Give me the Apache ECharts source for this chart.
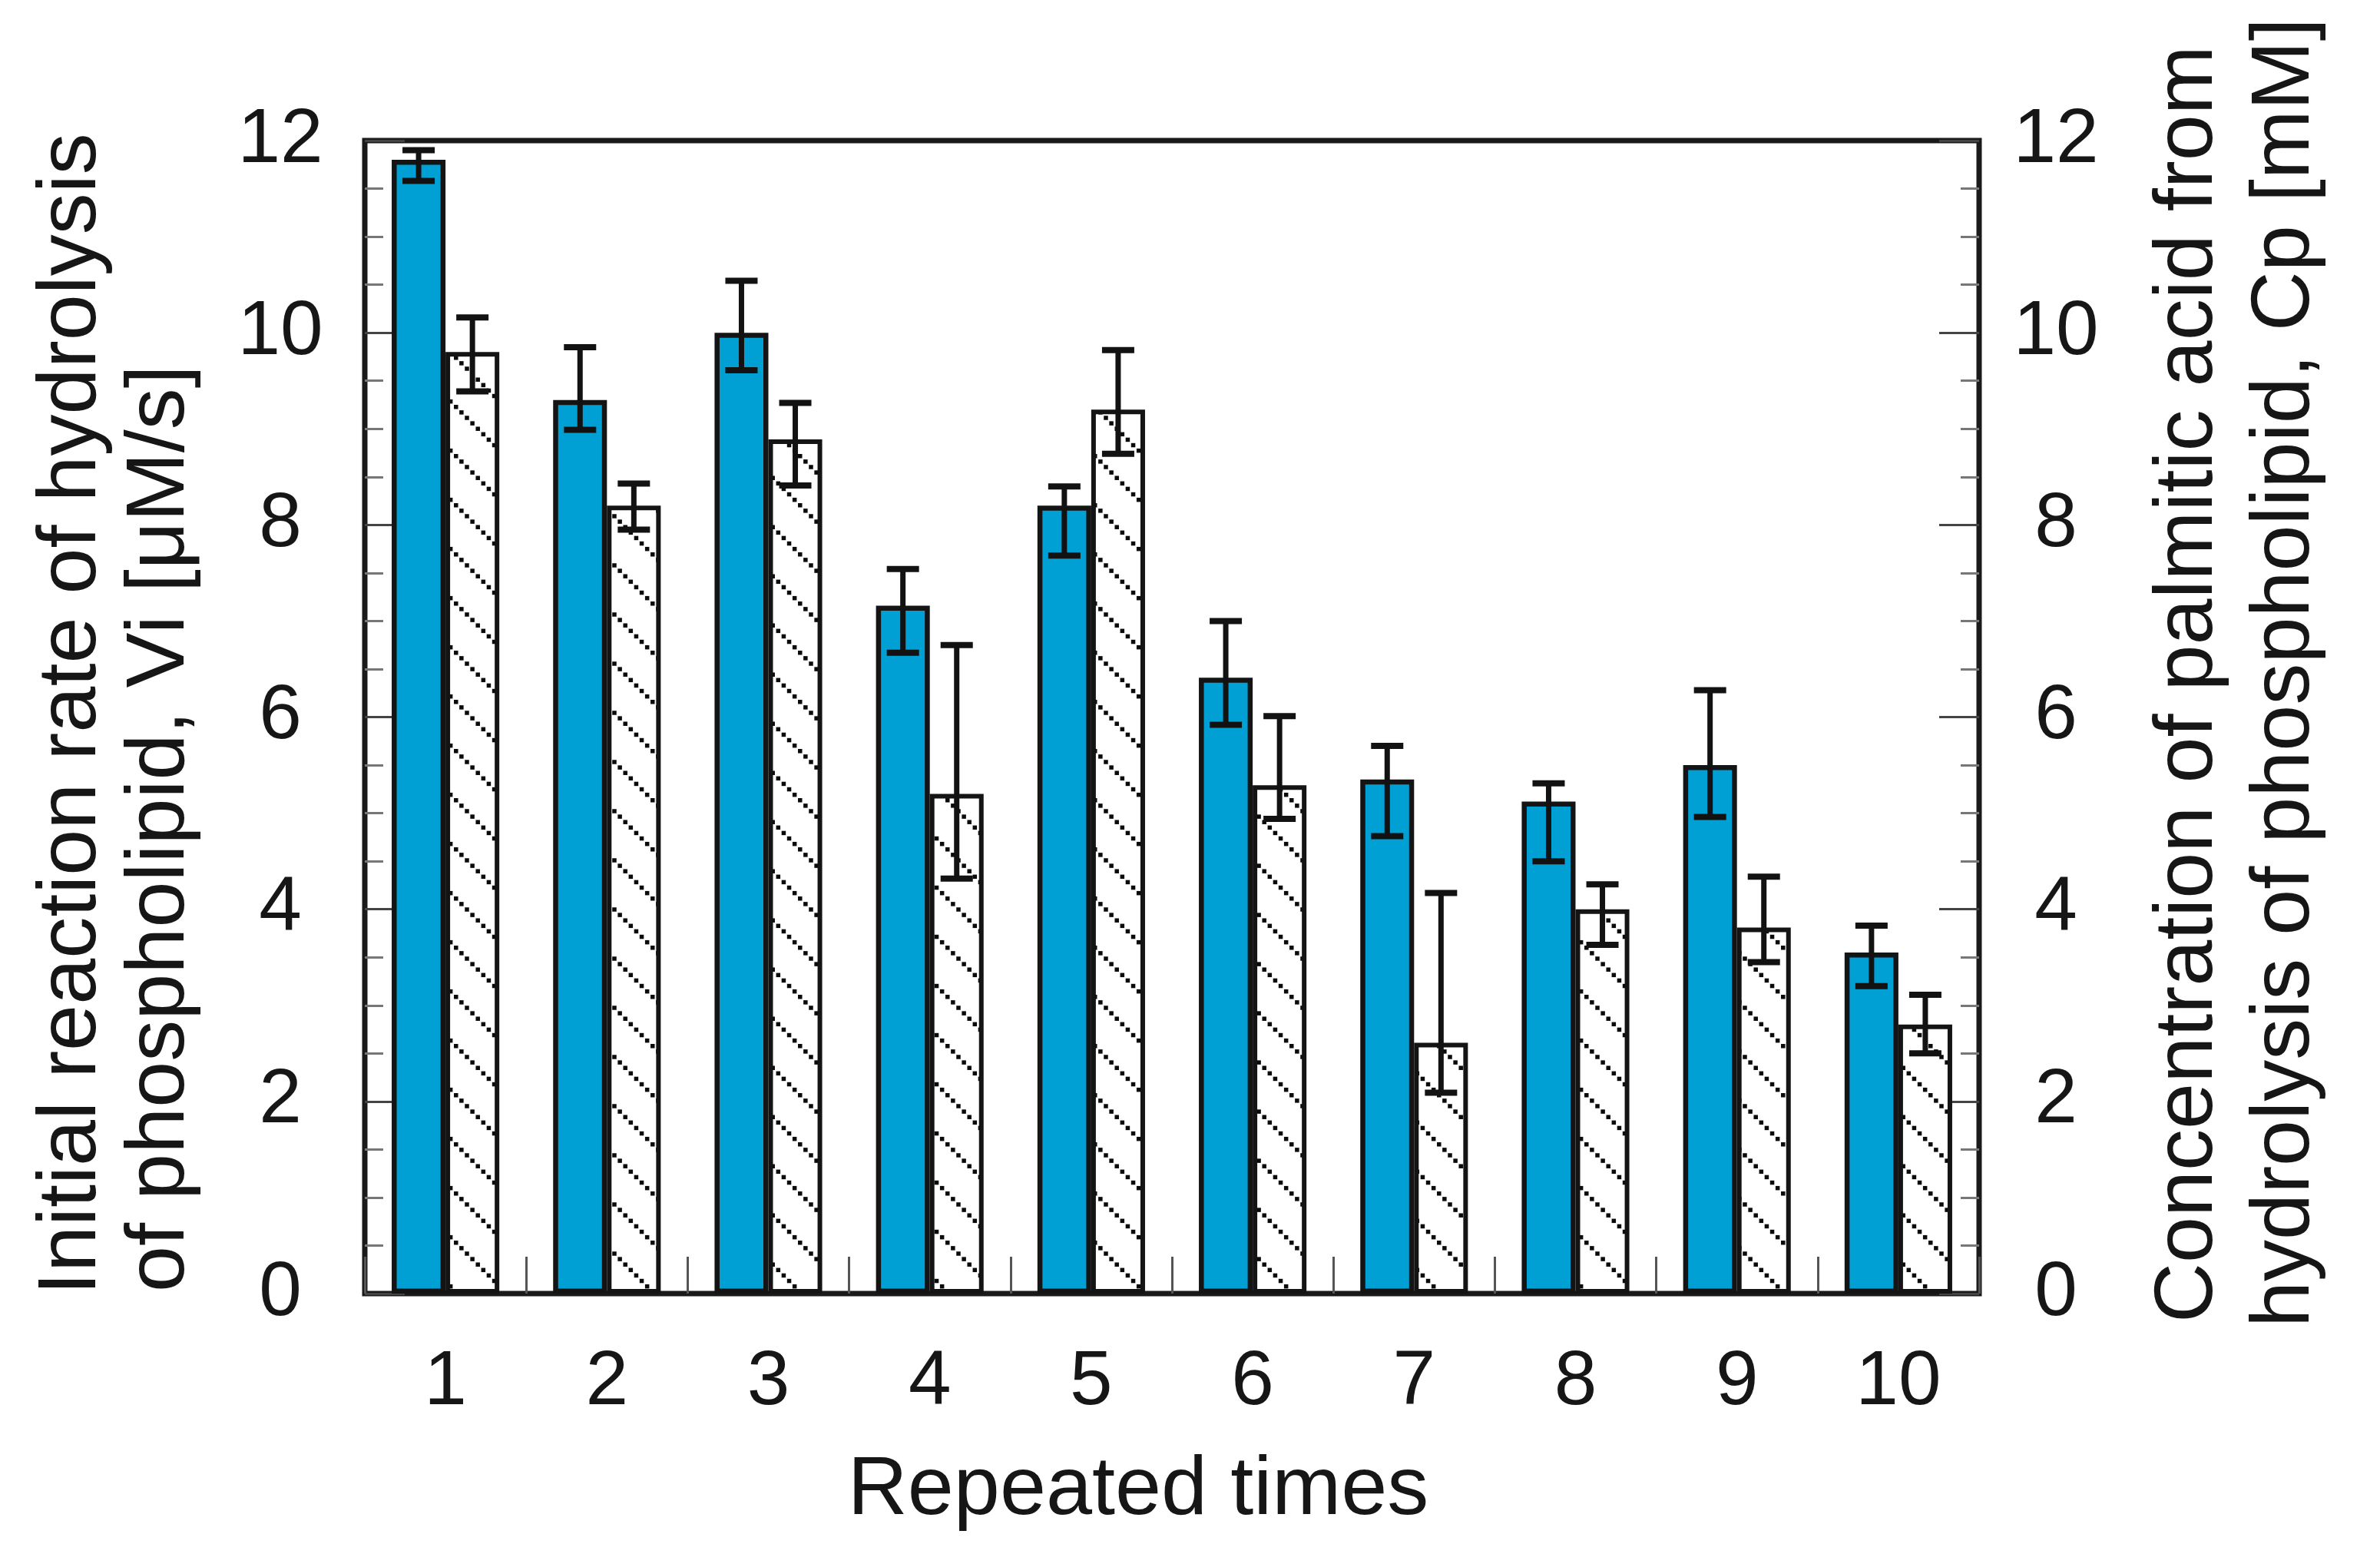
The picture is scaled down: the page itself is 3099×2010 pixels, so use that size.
<!DOCTYPE html>
<html>
<head>
<meta charset="utf-8">
<script src="https://cdn.jsdelivr.net/npm/echarts@6/dist/echarts.min.js"></script>
<style>
html,body{margin:0;padding:0;background:#fff;}
#chart{width:3099px;height:2010px;}
</style>
</head>
<body>
<div id="chart"></div>
<script>
// ---- data ----
const categories = ['1','2','3','4','5','6','7','8','9','10'];
const yTicks = [0, 2, 4, 6, 8, 10, 12];
// Initial reaction rate Vi [uM/s] (blue bars)
const viValues = [11.80, 9.30, 10.00, 7.16, 8.20, 6.41, 5.35, 5.12, 5.50, 3.55];
const viErrLow  = [11.58, 8.99, 9.61, 6.67, 7.68, 5.92, 4.76, 4.50, 4.96, 3.20];
const viErrHigh = [11.90, 9.85, 10.54, 7.54, 8.40, 7.00, 5.70, 5.31, 6.28, 3.83];
// Concentration of palmitic acid Cp [mM] (hatched bars)
const cpValues = [9.80, 8.20, 8.89, 5.20, 9.20, 5.29, 2.61, 4.00, 3.81, 2.80];
const cpErrLow  = [9.39, 7.95, 8.41, 4.32, 8.74, 4.94, 2.09, 3.63, 3.45, 2.50];
const cpErrHigh = [10.16, 8.43, 9.27, 6.75, 9.82, 6.01, 4.17, 4.26, 4.34, 3.11];

const leftTitle = ['Initial reaction rate of hydrolysis', 'of phospholipid, Vi [\u03bcM/s]'];
const rightTitle = ['Concentration of palmitic acid from', 'hydrolysis of phospholipid, Cp [mM]'];
const xTitle = 'Repeated times';

// ---- styling ----
const FONT = '"Liberation Sans", Arial, sans-serif';
const INK = '#161616';
const TFONT = '108px ' + FONT;

// hatch pattern: dotted diagonal lines "\"
const pc = document.createElement('canvas');
pc.width = 64; pc.height = 64;
const pctx = pc.getContext('2d');
pctx.fillStyle = '#ffffff';
pctx.fillRect(0, 0, 64, 64);
pctx.fillStyle = '#0a0a0a';
for (let i = 0; i < 9; i++) {
  const p = 3.55 + i * (64 / 9);
  pctx.fillRect(p - 2.75, p - 2.75, 5.5, 5.5);
}

const chart = echarts.init(document.getElementById('chart'), null, {renderer: 'canvas'});

function errSeries(sign, low, high, yIdx) {
  return {
    type: 'custom',
    xAxisIndex: 0,
    yAxisIndex: yIdx,
    z: 10,
    silent: true,
    encode: {x: 0, y: [1, 2]},
    data: categories.map((c, i) => [i, low[i], high[i]]),
    renderItem: function (params, api) {
      const band = api.size([1, 0])[0];
      const bw = band / 3;
      const xc = api.coord([api.value(0), 0])[0] + sign * bw / 2;
      const yl = api.coord([api.value(0), api.value(1)])[1];
      const yh = api.coord([api.value(0), api.value(2)])[1];
      const hw = 21;
      const st = {stroke: '#121212', lineWidth: 7};
      const cs = {stroke: '#121212', lineWidth: 8};
      return {
        type: 'group',
        children: [
          {type: 'line', shape: {x1: xc, y1: yh, x2: xc, y2: yl}, style: st},
          {type: 'line', shape: {x1: xc - hw, y1: yh, x2: xc + hw, y2: yh}, style: cs},
          {type: 'line', shape: {x1: xc - hw, y1: yl, x2: xc + hw, y2: yl}, style: cs}
        ]
      };
    }
  };
}

function yAxisCfg(pos, margin) {
  return {
    type: 'value',
    position: pos,
    min: yTicks[0],
    max: yTicks[yTicks.length - 1],
    interval: yTicks[1] - yTicks[0],
    axisLine: {show: false},
    splitLine: {show: false},
    axisTick: {show: true, inside: true, length: 52, lineStyle: {color: '#444', width: 3}},
    minorTick: {show: true, splitNumber: 4, length: 24, lineStyle: {color: '#777', width: 3}},
    axisLabel: {
      show: true, fontFamily: FONT, fontSize: 100, color: INK,
      align: 'center', margin: margin,
      formatter: v => String(v)
    }
  };
}

const option = {
  animation: false,
  backgroundColor: '#ffffff',
  grid: {
    left: 475, right: 522, top: 183, bottom: 326,
    show: true, borderColor: '#1a1a1a', borderWidth: 7, backgroundColor: 'transparent'
  },
  xAxis: {
    type: 'category',
    data: categories,
    boundaryGap: true,
    axisLine: {show: false},
    axisTick: {show: true, inside: true, length: 48, alignWithLabel: false, lineStyle: {color: '#555', width: 3}},
    axisLabel: {fontFamily: FONT, fontSize: 100, color: INK, margin: 66}
  },
  yAxis: [yAxisCfg('left', 110), yAxisCfg('right', 100)],
  series: [
    {
      type: 'bar', name: 'Vi', yAxisIndex: 0,
      data: viValues,
      barWidth: '33.33%', barGap: '0%',
      itemStyle: {color: '#009fd4', borderColor: '#141414', borderWidth: 6.5}
    },
    {
      type: 'bar', name: 'Cp', yAxisIndex: 1,
      data: cpValues,
      barWidth: '33.33%', barGap: '0%',
      itemStyle: {color: {image: pc, repeat: 'repeat'}, borderColor: '#141414', borderWidth: 6}
    },
    errSeries(-1, viErrLow, viErrHigh, 0),
    errSeries(1, cpErrLow, cpErrHigh, 1)
  ],
  graphic: [
    {type: 'text', x: 94, y: 1686, rotation: Math.PI / 2,
     style: {text: leftTitle[0], font: TFONT, fill: INK, textAlign: 'left', textVerticalAlign: 'middle'}},
    {type: 'text', x: 209, y: 1682, rotation: Math.PI / 2,
     style: {text: leftTitle[1], font: TFONT, fill: INK, textAlign: 'left', textVerticalAlign: 'middle'}},
    {type: 'text', x: 2850, y: 1722, rotation: Math.PI / 2,
     style: {text: rightTitle[0], font: TFONT, fill: INK, textAlign: 'left', textVerticalAlign: 'middle'}},
    {type: 'text', x: 2976, y: 1728, rotation: Math.PI / 2,
     style: {text: rightTitle[1], font: TFONT, fill: INK, textAlign: 'left', textVerticalAlign: 'middle'}},
    {type: 'text', x: 1482, y: 1941,
     style: {text: xTitle, font: TFONT, fill: INK, textAlign: 'center', textVerticalAlign: 'middle'}}
  ]
};
chart.setOption(option);
</script>
</body>
</html>
